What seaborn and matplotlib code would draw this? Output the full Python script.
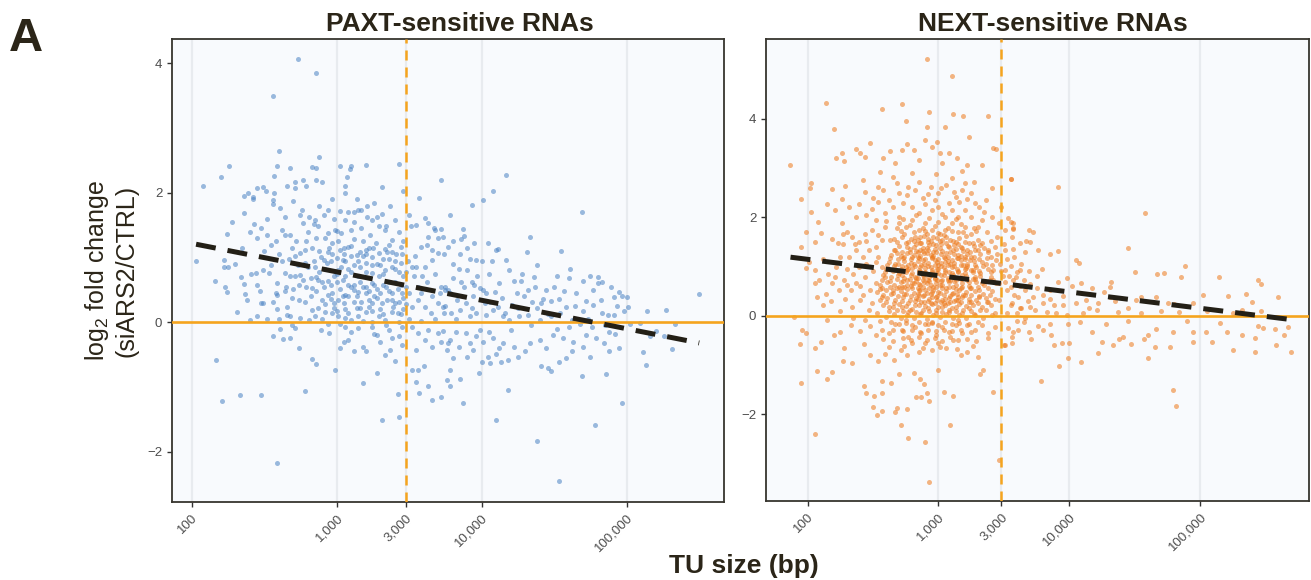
import numpy as np
import pandas as pd
import seaborn as sns
import matplotlib.pyplot as plt
from matplotlib.ticker import NullLocator

# PAXT-sensitive RNAs: (log10 TU size in bp, log2 fold change siARS2/CTRL)
paxt_points = [
    (2.73,4.06),(2.86,3.85),(2.56,3.50),(2.60,2.64),(2.88,2.56),
    (2.26,2.42),(2.20,2.25),(2.08,2.11),(2.59,2.42),(2.57,2.26),(2.68,2.38),(2.83,2.40),(2.86,2.38),
    (3.02,2.42),(3.10,2.41),(3.09,2.37),(3.20,2.43),(3.43,2.44),(3.07,2.24),(3.06,2.11),(3.06,2.00),
    (3.31,2.09),(3.46,2.03),(3.57,1.92),(2.71,2.16),(2.77,2.19),(2.79,2.11),(2.86,2.20),(2.90,2.17),
    (2.71,2.07),(2.66,2.11),(2.45,2.08),(2.49,2.09),(2.51,2.02),(2.57,2.00),(2.61,1.77),(2.36,1.95),
    (2.39,1.99),(2.42,1.93),(2.42,1.90),(2.56,1.89),(2.56,1.83),(2.36,1.69),(2.43,1.52),(2.24,1.37),
    (2.03,0.95),(2.22,0.96),(2.25,0.86),(2.22,0.85),(2.16,0.63),(2.23,0.54),(2.24,0.47),(2.31,0.16),
    (2.40,0.04),(2.36,0.59),(2.37,0.44),(2.38,0.35),(2.41,0.75),(2.44,0.76),(2.49,0.80),(2.45,0.58),
    (2.47,0.49),(2.48,0.30),(2.49,0.29),(2.53,0.76),(2.55,0.88),(2.56,0.32),(2.58,0.45),(2.59,0.42),
    (2.59,0.60),(2.59,0.20),(2.56,-0.22),(2.61,-0.11),(2.63,-0.26),(2.68,-0.25),(2.66,0.11),(2.68,0.09),
    (2.69,-0.05),(2.71,-0.09),(2.74,-0.40),(2.83,-0.57),(2.86,-0.64),(2.78,-1.06),(2.48,-1.13),(2.33,-1.13),
    (2.21,-1.21),(2.17,-0.58),(2.59,-2.17),(2.99,-0.74),(3.05,-0.30),(3.08,-0.28),(3.18,-0.38),(3.20,-0.45),
    (3.18,-0.94),(3.28,-0.78),(3.31,-1.51),(3.43,-1.47),(3.42,-1.11),(3.30,-0.31),(3.33,-0.50),(3.37,-0.43),
    (3.43,-0.22),(2.95,-0.16),(2.89,-0.12),
    (2.62,1.43),(2.64,1.35),(2.68,1.35),(2.75,1.66),(2.76,1.74),(2.81,1.63),(2.77,1.53),(2.84,1.52),
    (2.87,1.48),(2.85,1.58),(2.91,1.66),(2.94,1.74),(2.99,1.43),(3.00,1.41),(2.94,1.38),(3.03,1.38),
    (3.10,1.43),(3.06,1.58),(3.08,1.71),(3.12,1.71),(3.15,1.74),(3.17,1.73),(3.21,1.63),(3.26,1.85),
    (3.21,1.80),(3.37,1.79),(3.31,1.68),(3.34,1.49),(3.29,1.48),(3.24,1.58),(3.17,1.45),(3.23,1.35),
    (3.33,1.43),(3.43,1.40),(3.38,1.27),(3.44,1.17),(3.38,1.08),(3.33,1.13),(3.29,1.07),(3.24,1.01),
    (3.20,1.12),(3.16,1.09),(3.18,1.02),(3.14,1.04),(3.10,1.02),(3.08,1.17),(3.05,1.14),(3.01,1.25),
    (2.97,1.22),(2.94,1.09),(2.91,0.96),(2.93,0.92),(2.89,1.01),(2.85,0.86),(2.83,1.14),(2.79,1.25),
    (2.78,1.12),(2.75,1.07),(2.71,1.02),(2.69,1.14),(2.62,0.94),(2.64,0.76),(2.68,0.71),(2.71,0.71),
    (2.75,0.73),(2.77,0.65),(2.79,0.55),(2.83,0.53),(2.87,0.65),(2.91,0.55),(2.94,0.63),(2.98,0.71),
    (3.01,0.81),(3.03,0.86),(3.06,0.71),(3.10,0.78),(3.15,0.71),(3.20,0.78),(3.24,0.76),(3.29,0.71),
    (3.33,0.81),(3.38,0.86),(3.43,0.78),(3.46,0.71),
    (2.97,0.45),(3.01,0.35),(3.05,0.29),(3.08,0.40),(3.12,0.32),(3.15,0.47),(3.17,0.32),(3.22,0.35),
    (3.24,0.29),(3.26,0.40),(3.31,0.29),(3.35,0.35),(3.38,0.45),(3.39,0.24),(3.43,0.32),(3.45,0.45),
    (2.87,0.22),(2.92,0.16),(2.97,0.14),(3.01,0.09),(3.06,0.06),(3.10,0.04),(3.15,0.09),(3.20,0.16),
    (3.24,0.01),(3.29,0.09),(3.33,0.04),(3.38,0.16),(3.43,0.01),(3.24,-0.07),(3.15,-0.09),(3.06,-0.07),
    (3.36,-0.12),(3.45,-0.07),(2.83,0.19),(2.78,0.32),(2.74,0.35),(2.69,0.37),(2.66,0.24),(2.75,0.06),
    (2.81,0.04),(2.85,0.09),
    (3.52,0.24),(3.56,0.55),(3.59,0.71),(3.61,0.86),(3.66,0.96),(3.70,1.07),(3.68,1.43),(3.63,1.32),
    (3.58,1.17),(3.54,1.02),(3.52,0.86),(3.53,0.71),(3.56,0.35),(3.61,0.24),(3.66,0.40),(3.70,0.29),
    (3.75,0.50),(3.74,0.14),(3.52,-0.07),(3.56,-0.17),(3.61,-0.27),(3.66,-0.38),(3.70,-0.17),(3.77,-0.32),
    (3.55,-0.43),(3.52,-0.74),(3.56,-0.74),(3.60,-0.68),(3.55,-0.92),(3.57,-1.09),(3.63,-0.99),(3.72,-1.15),
    (3.66,-1.20),(3.63,1.53),(3.61,1.61),(3.67,1.45),(3.51,1.48),
    (3.72,2.19),(4.17,2.28),(4.08,2.03),(4.01,1.89),(3.93,1.81),(3.78,1.65),(4.69,1.71),(3.72,1.44),
    (3.87,1.44),(3.88,1.33),(3.86,1.28),(3.73,1.32),(4.33,1.31),(4.04,1.22),(4.11,1.13),(4.10,1.11),
    (4.31,1.08),(4.55,1.10),(4.17,0.96),(4.07,0.94),(4.00,0.94),(3.96,0.96),(3.92,0.97),(3.85,1.06),
    (3.77,1.17),(4.38,0.89),(4.61,0.82),(4.52,0.72),(4.60,0.69),(4.70,0.64),(4.75,0.72),(4.80,0.70),
    (4.80,0.61),(4.83,0.62),(4.89,0.54),(4.95,0.47),(4.91,0.39),(4.97,0.41),(5.00,0.39),(5.01,0.23),
    (4.98,0.18),(4.91,0.11),(4.87,0.11),(4.83,0.15),(4.77,0.26),(4.72,0.33),(4.70,0.18),(4.64,0.25),
    (4.58,0.23),(4.53,0.36),(4.48,0.33),(4.42,0.36),(4.38,0.22),(4.35,0.32),(4.29,0.40),(4.24,0.45),
    (4.21,0.27),(4.14,0.37),(4.09,0.47),(4.03,0.45),(3.99,0.53),(3.94,0.40),(3.89,0.29),(3.83,0.35),
    (3.78,0.45),(3.75,0.55),(3.71,0.45),(3.73,0.24),(3.79,0.14),(3.85,0.19),(3.92,0.09),(3.96,0.14),
    (4.03,0.11),(4.08,0.19),(4.15,0.09),(4.19,0.04),(4.26,0.09),(4.32,0.11),(4.40,0.04),(4.48,0.09),
    (4.54,0.14),(4.62,0.04),(4.68,-0.02),(4.76,-0.07),(4.85,-0.04),(5.02,-0.02),(5.09,-0.01),(5.14,0.18),
    (5.27,0.19),(5.33,-0.03),(5.20,-0.13),(5.26,-0.21),(5.16,-0.21),(5.11,-0.46),(5.13,-0.66),(5.31,-0.41),
    (5.50,0.43),
    (3.73,-0.14),(3.78,-0.27),(3.84,-0.38),(3.80,-0.56),(3.78,-0.74),(3.76,-0.89),(3.78,-0.99),(3.85,-0.88),
    (3.87,-1.25),(3.90,-0.54),(3.98,-0.79),(4.00,-0.62),(4.04,-0.53),(4.06,-0.63),(4.10,-0.49),(4.13,-0.62),
    (4.18,-0.58),(4.25,-0.54),(3.96,-0.22),(4.01,-0.30),(4.08,-0.25),(4.15,-0.32),(4.22,-0.38),(4.33,-0.32),
    (4.40,-0.27),(4.49,-0.20),(4.56,-0.25),(4.63,-0.30),(4.70,-0.38),(4.79,-0.25),(4.84,-0.32),(4.88,-0.45),
    (4.95,-0.40),(4.58,-0.56),(4.53,-0.61),(4.41,-0.67),(4.46,-0.71),(4.48,-0.76),(4.69,-0.83),(4.75,-0.53),
    (4.86,-0.80),(4.18,-1.04),(4.10,-1.51),(4.97,-1.25),(4.78,-1.59),(4.38,-1.83),(4.53,-2.45),
    (3.80,0.68),(3.77,0.50),(3.95,0.58),(4.01,0.50),(4.06,0.32),(4.11,0.24),(4.22,0.63),(4.27,0.63),
    (4.32,0.50),(4.37,0.55),(4.41,0.29),(3.99,-0.12),(3.89,-0.17),(3.94,-0.43),(3.76,-0.43),
    (2.80,0.85),(2.84,0.95),(2.88,0.78),(2.92,0.82),(2.96,0.95),(3.00,0.62),(3.04,0.96),(3.08,0.58),
    (3.12,0.88),(3.16,0.62),(3.20,0.92),(3.24,0.60),(3.28,0.90),(3.32,0.58),(3.36,0.98),(3.40,0.62),
    (3.44,0.92),(3.48,0.55),(2.82,0.40),(2.86,0.48),(2.90,0.35),(2.94,0.42),(2.98,0.30),(3.02,0.52),
    (3.06,0.42),(3.10,0.55),(3.14,0.40),(3.18,0.55),(3.22,0.48),(3.26,0.58),(3.30,0.45),(3.34,0.55),
    (3.38,0.35),(3.42,0.52),(3.46,0.38),(3.50,0.45),(2.90,0.05),(2.94,-0.03),(2.98,0.22),(3.02,-0.02),
    (3.06,0.20),(3.10,-0.15),(3.14,0.22),(3.18,0.02),(3.22,0.24),(3.26,-0.18),(3.30,0.20),(3.34,-0.05),
    (3.38,-0.25),(3.42,0.15),(3.46,0.20),(3.50,0.05),(2.92,1.30),(2.97,1.05),(3.02,1.12),(3.06,0.95),
    (3.12,1.28),(3.18,1.25),(3.22,1.15),(3.27,1.22),(3.32,0.98),(3.36,1.20),(3.41,1.05),(3.46,1.25),
    (3.49,0.95),(2.86,1.30),(2.80,1.40),(2.72,1.25),(2.67,0.98),(2.73,0.88),(2.65,0.55),(2.70,0.52),
    (3.55,0.85),(3.58,0.45),(3.62,0.62),(3.65,0.15),(3.68,0.75),(3.72,0.55),(3.75,0.25),(3.80,0.90),
    (3.82,0.05),(3.86,0.62),(3.90,0.80),(3.93,0.22),(3.97,0.72),(4.02,0.30),(4.05,0.75),(4.12,0.60),
    (4.16,0.15),(4.19,0.80),(4.25,0.22),(4.28,0.75),(4.34,-0.05),(4.36,0.70),(4.44,0.50),(4.46,0.12),
    (4.50,0.55),(4.57,0.48),(4.60,-0.08),(4.65,0.45),(4.73,0.05),(4.77,0.50),(4.82,0.35),(4.88,-0.15),
    (4.93,0.25),(3.58,0.02),(3.63,-0.12),(3.68,0.05),(3.72,-0.30),(3.82,-0.15),(3.92,-0.32),(4.05,-0.15),
    (4.12,-0.40),(4.20,-0.12),(4.30,-0.45),(4.44,-0.40),(4.52,-0.10),(4.62,-0.45),(4.72,-0.20),(4.92,-0.18),
    (3.45,-0.35),(3.40,-0.60),(3.28,-0.20),(3.12,-0.45),(3.02,-0.40),(2.60,1.05),(2.55,1.20),(2.50,1.10),
    (2.45,1.30),(2.40,1.40),(2.35,1.15),(2.30,0.90),(2.28,1.55),(2.52,1.60),(2.48,1.45),(2.34,0.70),
    (2.52,0.05),(2.45,0.10),(2.60,0.05),(2.64,0.48),(2.58,1.25),(3.50,1.65),(3.55,1.50),(3.62,1.20),
    (3.66,1.12),(3.74,1.05),(3.80,1.25),(3.84,0.82),(3.90,1.15),(3.95,1.22),(3.70,1.30),(3.88,0.55),
    (3.93,0.62),(2.98,1.60),(3.02,1.72),(3.12,1.55),(3.28,1.62),(2.88,1.80),(2.97,1.90),(3.14,1.90),
    (3.40,1.58),(2.64,1.62),(2.70,1.88),(2.52,1.35),
    (2.96,0.58),(3.00,0.75),(3.04,0.66),(3.08,0.82),(3.12,0.50),(3.16,0.85),(3.20,0.55),(3.24,0.88),
    (3.28,0.52),(3.32,0.75),(3.36,0.62),(3.40,0.82),(3.44,0.58),(3.48,0.78),(2.92,0.28),(2.96,0.36),
    (3.00,0.18),(3.04,0.40),(3.08,0.15),(3.12,0.58),(3.16,0.22),(3.20,0.45),(3.24,0.18),(3.28,0.38),
    (3.32,0.12),(3.36,0.48),(3.40,0.30),(3.44,0.12),(3.48,0.28),(3.00,1.00),(3.05,1.05),(3.10,1.18),
    (3.15,0.95),(3.20,1.05),(3.25,1.15),(3.30,0.88),(3.35,1.08),(3.40,0.95),(3.45,1.05),(2.86,0.70),
    (2.90,0.62),(2.82,0.68),(2.78,0.92),(2.74,0.58),(2.88,1.10),(2.95,1.15),
]

# NEXT-sensitive RNAs: (log10 TU size in bp, log2 fold change siARS2/CTRL)
next_points = [
    (2.91,5.22),(3.10,4.87),(2.14,4.33),(2.20,3.79),(2.57,4.21),(2.72,4.30),(2.75,3.96),(2.93,4.15),
    (2.91,3.83),(3.11,4.11),(3.19,4.07),(3.38,4.07),(3.05,3.84),(3.23,3.64),(1.87,3.07),(2.03,2.69),
    (2.02,2.59),(1.95,2.37),(2.03,2.11),(1.99,1.71),(2.08,1.90),(1.95,1.40),(2.01,1.10),(1.99,0.98),
    (3.42,3.40),(3.44,3.39),(3.55,2.79),(3.48,2.22),
    (2.37,3.39),(2.40,3.31),(2.48,3.52),(2.44,3.23),(2.28,3.14),(2.22,3.20),(2.26,3.31),(2.58,3.21),
    (2.63,3.35),(2.67,3.10),(2.72,3.37),(2.76,3.49),(2.81,3.37),(2.85,3.16),(2.90,3.57),(2.95,3.43),
    (2.99,3.54),(3.01,3.30),(3.03,3.10),(3.08,3.30),(3.14,3.20),(3.22,3.06),(3.33,3.06),(3.27,2.71),
    (3.20,2.70),(3.36,2.35),(3.41,2.60),(2.19,2.57),(2.29,2.64),(2.42,2.76),(2.44,2.52),(2.54,2.62),
    (2.65,2.83),(2.70,2.49),(2.77,2.62),(2.85,2.72),(2.94,2.62),(3.00,2.49),(3.06,2.66),(3.13,2.42),
    (3.18,2.55),(3.25,2.49),(3.31,2.22),(2.39,2.28),(2.32,2.22),(2.26,2.38),(2.21,2.15),(2.15,2.28),
    (2.37,2.01),(2.49,2.18),(2.54,2.32),(2.59,2.08),(2.65,2.22),(2.70,2.01),(2.80,2.22),(2.85,2.08),
    (2.90,2.28),(2.95,2.15),(3.00,2.22),(3.05,2.01),(3.10,2.15),(3.15,2.01),(3.20,2.15),(3.25,2.01),
    (3.33,1.94),(3.41,2.01),(3.46,1.88),(3.55,1.91),(3.57,1.78),
    (2.06,1.50),(2.10,1.69),(2.19,1.57),(2.26,1.88),(2.27,1.67),(2.23,1.47),(2.30,1.71),(2.34,1.61),
    (2.39,1.50),(2.44,1.67),(2.49,1.74),(2.54,1.64),(2.59,1.81),(2.06,0.93),(2.09,0.72),(2.06,0.66),
    (2.07,0.39),(2.12,0.22),(2.14,0.45),(2.19,0.66),(2.21,0.79),(2.22,1.00),(2.28,0.72),(2.24,0.52),
    (2.29,0.35),(2.34,0.18),(2.33,0.52),(2.37,0.66),(2.39,1.00),(2.42,1.20),(2.44,0.79),(2.48,0.52),
    (2.49,0.25),(2.52,0.66),(2.32,1.20),(2.37,1.33),(2.47,1.33),(2.54,1.20),(2.57,1.00),(2.59,0.79),
    (2.57,0.39),(2.62,0.18),(2.65,0.52),(2.67,1.33),(2.63,1.54),
    (2.70,1.88),(2.75,1.81),(2.80,1.94),(2.85,1.74),(2.90,1.88),(2.95,1.74),(3.00,1.91),(3.05,1.74),
    (3.10,1.88),(3.15,1.71),(3.20,1.81),(3.25,1.67),
    (2.72,1.61),(2.77,1.50),(2.82,1.61),(2.87,1.47),(2.92,1.57),(2.98,1.44),(3.03,1.54),(3.08,1.40),
    (3.13,1.50),(3.18,1.37),(3.23,1.47),(3.28,1.33),(3.33,1.47),(3.38,1.33),(3.43,1.40),
    (2.68,1.27),(2.73,1.17),(2.78,1.30),(2.84,1.20),(2.89,1.06),(2.94,1.23),(2.99,1.10),(3.04,1.20),
    (3.09,1.06),(3.14,1.17),(3.19,1.03),(3.24,1.13),(3.29,1.00),(3.36,1.06),(3.42,0.93),(3.47,1.06),
    (2.67,0.93),(2.72,0.83),(2.77,0.96),(2.82,0.79),(2.87,0.89),(2.92,0.72),(2.98,0.86),(3.03,0.72),
    (3.08,0.89),(3.13,0.72),(3.18,0.83),(3.23,0.69),(3.28,0.79),(3.33,0.66),(3.39,0.72),(3.46,0.66),
    (2.70,0.59),(2.75,0.45),(2.80,0.56),(2.85,0.42),(2.90,0.52),(2.95,0.39),(3.00,0.49),(3.05,0.35),
    (3.10,0.45),(3.15,0.32),(3.20,0.42),(3.25,0.28),(3.31,0.39),(3.37,0.28),(3.43,0.35),
    (2.72,0.18),(2.77,0.08),(2.82,0.22),(2.87,0.05),(2.92,0.15),(2.98,0.05),(3.03,0.18),(3.08,0.08),
    (3.13,0.18),(3.18,0.05),(3.23,0.15),(3.28,0.01),(3.36,0.12),(3.43,0.05),
    (2.81,1.40),(2.86,1.33),(2.91,1.37),(2.96,1.30),(3.01,1.37),(3.06,1.27),(3.11,1.33),(2.89,1.27),
    (2.94,1.00),(2.99,0.96),(3.04,1.00),(2.81,1.06),(2.86,1.00),(2.76,0.72),(2.81,0.66),(2.86,0.62),
    (2.91,0.66),(2.96,0.59),(3.01,0.62),(3.06,0.56),(3.11,0.59),(3.17,0.56),(2.84,0.35),(2.89,0.28),
    (2.94,0.25),(2.99,0.32),(3.04,0.25),(3.09,0.28),(2.96,1.61),(3.01,1.67),(2.91,1.67),(2.86,1.61),
    (3.06,1.61),(2.80,1.20),(3.15,1.23),(3.20,1.20),(2.75,1.00),(3.20,0.96),(3.25,0.93),(2.72,0.59),
    (3.25,0.56),(3.31,0.52),(3.15,0.39),(2.84,0.76),(2.89,0.79),(2.94,0.83),(2.99,0.72),(3.04,0.83),
    (3.09,0.72),(3.14,0.96),(2.84,1.30),(2.95,1.17),(3.00,1.03),(2.90,0.89),(3.05,1.10),(2.85,0.52),
    (2.95,0.49),
    (2.73,1.97),(2.83,2.05),(2.93,1.99),(3.03,2.06),(3.13,1.96),(2.68,1.78),(2.78,1.84),(2.88,1.79),
    (2.97,1.83),(3.07,1.79),(3.17,1.86),(3.27,1.78),(2.66,1.56),(2.74,1.66),(2.79,1.57),(2.84,1.55),
    (2.89,1.62),(2.94,1.52),(2.99,1.58),(3.04,1.64),(3.09,1.53),(3.16,1.59),(3.21,1.62),(3.30,1.55),
    (3.40,1.52),(2.70,1.42),(2.76,1.39),(2.83,1.45),(2.88,1.38),(2.93,1.44),(2.97,1.36),(3.02,1.46),
    (3.07,1.41),(3.12,1.44),(3.17,1.39),(3.22,1.34),(3.27,1.42),(3.35,1.38),(2.64,1.24),(2.71,1.22),
    (2.76,1.27),(2.81,1.24),(2.86,1.22),(2.91,1.28),(2.96,1.21),(3.02,1.26),(3.07,1.20),(3.12,1.26),
    (3.17,1.22),(3.22,1.26),(3.27,1.19),(3.32,1.25),(3.40,1.20),(2.62,1.10),(2.69,1.06),(2.74,1.12),
    (2.79,1.08),(2.84,1.12),(2.88,1.14),(2.92,1.08),(2.97,1.13),(3.02,1.07),(3.07,1.12),(3.12,1.08),
    (3.17,1.13),(3.22,1.06),(3.27,1.12),(3.33,1.09),(3.44,1.14),(2.60,0.96),(2.66,1.01),(2.71,0.96),
    (2.76,0.92),(2.80,0.98),(2.85,0.94),(2.90,0.98),(2.95,0.92),(3.00,0.96),(3.05,0.93),(3.10,0.99),
    (3.15,0.90),(3.21,0.97),(3.26,0.94),(3.31,0.91),(3.38,0.95),(3.48,0.90),(2.58,0.83),(2.64,0.78),
    (2.69,0.82),(2.74,0.76),(2.79,0.83),(2.83,0.77),(2.88,0.83),(2.93,0.79),(2.97,0.76),(3.02,0.82),
    (3.07,0.77),(3.11,0.83),(3.16,0.77),(3.21,0.81),(3.26,0.74),(3.32,0.81),(3.40,0.78),(3.49,0.80),
    (2.55,0.62),(2.61,0.68),(2.66,0.63),(2.71,0.69),(2.76,0.62),(2.80,0.67),(2.85,0.64),(2.89,0.69),
    (2.94,0.62),(2.98,0.67),(3.03,0.63),(3.08,0.68),(3.13,0.62),(3.18,0.67),(3.23,0.61),(3.29,0.68),
    (3.35,0.62),(3.44,0.66),(2.53,0.48),(2.60,0.53),(2.65,0.47),(2.71,0.51),(2.76,0.54),(2.81,0.47),
    (2.86,0.52),(2.91,0.47),(2.96,0.53),(3.01,0.46),(3.06,0.51),(3.11,0.47),(3.16,0.52),(3.21,0.48),
    (3.28,0.50),(3.34,0.45),(3.41,0.50),(2.55,0.33),(2.61,0.37),(2.67,0.32),(2.73,0.38),(2.78,0.33),
    (2.83,0.36),(2.88,0.41),(2.93,0.34),(2.98,0.39),(3.03,0.32),(3.08,0.37),(3.13,0.33),(3.18,0.38),
    (3.23,0.34),(3.29,0.31),(3.36,0.36),(3.46,0.32),(2.58,0.21),(2.65,0.18),(2.70,0.24),(2.75,0.19),
    (2.80,0.14),(2.85,0.22),(2.90,0.19),(2.95,0.24),(3.00,0.17),(3.05,0.22),(3.10,0.16),(3.16,0.23),
    (3.21,0.19),(3.26,0.22),(3.33,0.18),(3.40,0.21),(2.60,-0.03),(2.66,0.03),(2.71,-0.05),(2.76,0.02),
    (2.81,-0.04),(2.86,0.03),(2.91,-0.06),(2.96,0.02),(3.01,-0.03),(3.06,0.03),(3.11,-0.05),(3.16,0.02),
    (3.21,-0.04),(3.27,0.03),(3.34,-0.05),(3.41,0.02),(2.58,-0.47),(2.65,-0.52),(2.73,-0.45),(2.79,-0.50),
    (2.85,-0.44),(2.91,-0.49),(2.97,-0.46),(3.03,-0.52),(3.09,-0.44),(3.15,-0.50),(3.22,-0.47),(3.29,-0.52),
    (3.38,-0.46),(2.62,-0.64),(2.74,-0.62),(2.88,-0.66),(3.01,-0.63),(3.14,-0.67),(3.26,-0.61),
    (2.71,1.72),(2.81,1.70),(2.90,1.73),(3.00,1.69),(3.10,1.73),(3.19,1.70),(3.29,1.72),
    (2.68,1.49),(2.75,1.47),(2.81,1.51),(2.86,1.47),(2.92,1.49),(2.96,1.45),(3.01,1.51),(3.06,1.48),
    (3.11,1.52),(3.15,1.46),(3.20,1.50),(3.26,1.48),(3.32,1.44),(2.66,1.33),(2.72,1.30),(2.78,1.35),
    (2.83,1.32),(2.88,1.31),(2.92,1.34),(2.98,1.29),(3.03,1.32),(3.09,1.30),(3.13,1.35),(3.19,1.31),
    (3.24,1.29),(3.30,1.34),(3.38,1.29),(2.63,1.17),(2.69,1.15),(2.74,1.19),(2.79,1.16),(2.85,1.18),
    (2.90,1.15),(2.95,1.19),(3.00,1.16),(3.05,1.18),(3.10,1.14),(3.15,1.17),(3.20,1.15),(3.25,1.19),
    (3.31,1.16),(3.37,1.17),(2.61,1.03),(2.67,1.05),(2.72,1.02),(2.77,1.04),(2.82,1.01),(2.87,1.04),
    (2.92,1.02),(2.97,1.04),(3.02,1.01),(3.07,1.03),(3.12,1.01),(3.17,1.04),(3.22,1.02),(3.28,1.04),
    (3.34,1.01),(3.41,1.03),(2.59,0.88),(2.65,0.90),(2.70,0.87),(2.75,0.89),(2.80,0.86),(2.85,0.88),
    (2.90,0.86),(2.95,0.89),(3.00,0.87),(3.05,0.88),(3.10,0.86),(3.15,0.89),(3.20,0.87),(3.26,0.88),
    (3.32,0.86),(3.40,0.88),(2.57,0.73),(2.63,0.71),(2.68,0.74),(2.73,0.71),(2.78,0.74),(2.83,0.70),
    (2.88,0.73),(2.93,0.71),(2.97,0.74),(3.02,0.70),(3.07,0.73),(3.12,0.71),(3.17,0.74),(3.22,0.72),
    (3.28,0.74),(3.35,0.71),(3.42,0.73),(2.57,0.57),(2.63,0.59),(2.68,0.56),(2.74,0.58),(2.79,0.60),
    (2.84,0.56),(2.88,0.58),(2.93,0.56),(2.98,0.59),(3.03,0.56),(3.08,0.58),(3.13,0.55),(3.18,0.58),
    (3.24,0.56),(3.30,0.59),(3.38,0.56),(2.58,0.42),(2.64,0.44),(2.69,0.41),(2.74,0.44),(2.79,0.41),
    (2.84,0.44),(2.89,0.42),(2.94,0.44),(2.99,0.41),(3.04,0.43),(3.09,0.41),(3.14,0.44),(3.19,0.42),
    (3.25,0.43),(3.31,0.41),(3.39,0.43),(2.60,0.28),(2.66,0.26),(2.72,0.29),(2.77,0.26),(2.82,0.29),
    (2.87,0.27),(2.92,0.29),(2.97,0.26),(3.02,0.28),(3.07,0.26),(3.12,0.29),(3.17,0.27),(3.23,0.28),
    (3.30,0.26),(3.38,0.28),(2.62,0.10),(2.68,0.12),(2.73,0.09),(2.78,0.11),(2.83,0.08),(2.88,0.12),
    (2.93,0.09),(2.98,0.11),(3.03,0.08),(3.08,0.12),(3.13,0.09),(3.19,0.11),(3.25,0.09),(3.32,0.11),
    (2.64,-0.13),(2.70,-0.17),(2.75,-0.14),(2.80,-0.18),(2.85,-0.13),(2.90,-0.17),(2.95,-0.14),(3.00,-0.18),
    (3.05,-0.13),(3.10,-0.17),(3.16,-0.14),(3.22,-0.18),(3.30,-0.13),(2.65,-0.28),(2.73,-0.32),(2.80,-0.29),
    (2.86,-0.33),(2.92,-0.28),(2.98,-0.31),(3.04,-0.28),(3.10,-0.32),(3.17,-0.29),(3.25,-0.33),
    (2.50,2.40),(2.58,2.55),(2.62,2.35),(2.73,2.30),(2.76,2.45),(2.82,2.55),(2.88,2.40),(2.92,2.48),
    (2.97,2.35),(3.02,2.60),(3.08,2.30),(3.12,2.52),(3.16,2.32),(3.22,2.38),(3.28,2.30),(3.35,2.10),
    (2.68,2.70),(2.80,2.90),(2.98,2.88),(3.10,2.80),(3.18,2.95),(2.55,2.92),(2.45,2.05),(2.52,1.95),
    (2.60,1.92),(3.30,1.80),(3.37,1.70),(3.45,1.60),(3.50,1.45),(3.45,1.25),
    (2.25,1.20),(2.30,0.95),(2.35,0.85),(2.40,0.60),(2.45,1.05),(2.50,0.90),(2.55,0.55),(2.47,0.12),
    (2.40,0.32),(2.30,0.62),(2.18,0.30),(2.27,1.45),(2.36,1.45),(2.52,1.40),(2.57,1.55),(2.45,1.52),
    (2.52,1.10),(2.42,0.42),(2.53,0.05),(2.35,-0.05),(2.40,-0.30),(2.48,-0.20),(2.55,-0.10),(2.25,0.10),
    (2.16,0.85),(2.12,1.15),
    (1.90,-0.02),(1.96,-0.28),(1.99,-0.36),(1.94,-0.58),(1.95,-1.36),(2.06,-2.41),(2.07,-1.12),(2.15,-1.29),
    (2.19,-1.14),(2.27,-0.92),(2.34,-0.97),(2.28,-0.65),(2.20,-0.39),(2.25,-0.33),(2.33,-0.19),(2.15,-0.09),
    (2.10,-0.53),(2.06,-0.65),(2.43,-0.58),(2.48,-0.80),(2.43,-1.42),(2.45,-1.58),(2.51,-1.63),(2.57,-1.58),
    (2.50,-1.86),(2.53,-2.01),(2.57,-1.93),(2.67,-1.96),(2.68,-1.87),(2.71,-2.22),(2.77,-2.48),(2.76,-1.90),
    (2.57,-1.33),(2.64,-1.36),(2.70,-1.19),(2.81,-1.16),(2.86,-1.29),(2.89,-1.38),(2.83,-1.65),(2.87,-1.65),
    (2.91,-1.58),(2.93,-1.73),(2.90,-2.56),(2.93,-3.37),(3.04,-1.55),(3.11,-1.63),(3.09,-2.23),(3.00,-1.10),
    (2.54,-0.93),(2.59,-0.77),(2.66,-0.90),(2.71,-0.70),(2.76,-0.80),(2.80,-0.56),(2.85,-0.73),(2.90,-0.56),
    (2.95,-0.70),(3.00,-0.56),(3.06,-0.66),(3.11,-0.49),(3.17,-0.80),(3.22,-0.73),(3.30,-0.83),(3.34,-1.10),
    (3.32,-1.19),(3.42,-1.54),(3.46,-2.93),(2.52,-0.39),(2.57,-0.29),(2.62,-0.36),(2.67,-0.16),(2.72,-0.29),
    (2.77,-0.43),(2.82,-0.22),(2.87,-0.36),(2.92,-0.16),(2.98,-0.39),(3.03,-0.22),(3.08,-0.33),(3.13,-0.19),
    (3.18,-0.36),(3.23,-0.16),(3.28,-0.29),(3.33,-0.19),(3.38,-0.36),(3.43,-0.22),(3.50,-0.60),(3.56,-0.43),
    (3.61,-0.29),(3.65,-0.12),(2.44,-0.09),(2.75,-0.09),(2.95,-0.12),(3.15,-0.09),
    (3.51,1.74),(3.56,1.61),(3.51,1.33),(3.58,1.20),(3.63,1.06),(3.51,0.93),(3.57,0.72),(3.52,0.52),
    (3.61,0.39),(3.56,0.25),(3.63,0.15),
    (3.52,1.15),(3.55,1.02),(3.60,0.88),(3.65,0.72),(3.70,0.65),(3.75,0.80),(3.80,0.42),(3.68,0.30),
    (3.58,0.42),(3.54,0.80),(3.62,0.60),(3.74,0.12),(3.85,0.35),(3.90,0.05),(3.66,-0.05),(3.76,-0.20),
    (3.53,-0.25),(3.60,-0.10),(3.86,-0.40),(3.95,0.40),(4.02,0.60),(4.15,0.15),(4.35,0.30),(4.45,-0.10),
    (4.55,0.05),(4.70,0.10),(4.90,-0.10),(5.05,0.10),(5.25,0.05),(5.35,0.45),
    (3.55,2.78),(3.91,2.62),(4.58,2.09),(4.45,1.37),(4.05,1.13),(4.07,1.08),(4.88,1.02),(4.50,0.89),
    (4.67,0.85),(4.72,0.86),(4.85,0.78),(5.14,0.79),(5.44,0.72),(5.46,0.64),(5.59,0.38),(3.53,1.98),
    (3.57,1.89),(3.57,1.77),(3.69,1.74),(3.72,1.71),(3.67,1.52),(3.70,1.50),(3.62,1.47),(3.57,1.35),
    (3.66,1.30),(3.76,1.33),(3.85,1.25),(3.91,1.32),(3.79,0.96),(3.69,0.91),(3.62,0.93),(3.59,0.79),
    (3.51,0.69),(3.55,0.59),(3.66,0.52),(3.75,0.56),(3.85,0.52),(3.91,0.69),(3.98,0.76),(4.09,0.67),
    (4.17,0.56),(4.32,0.69),(4.31,0.59),(4.31,0.39),(4.26,0.49),(4.22,0.25),(4.13,0.32),(4.05,0.25),
    (3.95,0.22),(3.88,0.22),(3.80,0.25),(3.72,0.39),(3.62,0.15),(3.55,0.22),(3.52,0.06),(3.60,0.05),
    (3.70,0.18),(3.83,0.08),(3.98,0.01),(4.10,0.05),(4.21,0.12),(4.37,0.08),(4.45,0.15),(4.51,0.32),
    (4.55,0.39),(4.66,0.39),(4.75,0.25),(4.80,0.24),(4.84,0.08),(4.94,0.26),(5.02,0.42),(5.21,0.40),
    (5.32,0.12),(5.39,0.27),(5.46,0.09),(5.67,-0.22),(5.64,-0.39),(5.57,-0.26),(5.48,-0.24),(5.44,-0.21),
    (5.42,-0.46),(5.32,-0.40),(5.20,-0.33),(5.15,-0.14),(5.09,-0.53),(5.04,-0.33),(4.94,-0.33),(4.79,-0.34),
    (4.66,-0.26),(4.60,-0.39),(4.57,-0.47),(4.65,-0.63),(4.77,-0.64),(4.94,-0.53),(5.25,-0.70),(5.42,-0.73),
    (5.58,-0.60),(5.69,-0.73),(4.60,-0.85),(4.47,-0.58),(4.41,-0.43),(4.38,-0.48),(4.33,-0.60),(4.25,-0.54),
    (4.22,-0.75),(4.09,-0.95),(4.00,-0.56),(3.99,-0.85),(3.92,-1.03),(3.94,-0.56),(3.88,-0.60),(3.78,-1.32),
    (3.71,-0.48),(3.56,-0.56),(3.51,-0.60),(3.57,-0.33),(3.69,-0.33),(3.80,-0.29),(3.85,-0.16),(3.99,-0.16),
    (4.08,-0.12),(4.17,-0.33),(4.28,-0.16),(4.79,-1.51),(4.81,-1.84),
]

panel_titles = ["PAXT-sensitive RNAs", "NEXT-sensitive RNAs"]
title_x = [0.521, 0.528]
point_colors = ["#4A82C3", "#EE7A1C"]
point_alpha = [0.55, 0.55]
x_ticks = [100, 1000, 3000, 10000, 100000]
x_tick_labels = ["100", "1,000", "3,000", "10,000", "100,000"]
y_ticks = [-2, 0, 2, 4]
size_cutoff = 3000

ink = "#2B2518"
orange = "#F5A41E"

sns.set_theme(style="ticks")
plt.rcParams["font.family"] = ["Liberation Sans", "DejaVu Sans"]
plt.rcParams["axes.unicode_minus"] = True

fig = plt.figure(figsize=(13.11, 5.8), dpi=100)
ax1 = fig.add_axes([172 / 1311, 78 / 580, 552 / 1311, 463 / 580])
ax2 = fig.add_axes([766 / 1311, 79 / 580, 543 / 1311, 462 / 580])
axes = [ax1, ax2]
limits = [((10 ** 1.864, 10 ** 5.671), (-2.777, 4.376)),
          ((10 ** 1.683, 10 ** 5.829), (-3.766, 5.626))]

for ax, pts, title, tx, col, a, (xl, yl) in zip(axes, [paxt_points, next_points],
                                                panel_titles, title_x, point_colors,
                                                point_alpha, limits):
    df = pd.DataFrame(pts, columns=["log_tu", "lfc"])
    df["tu"] = 10 ** df["log_tu"]

    ax.set_facecolor("#F8FAFD")
    ax.set_xscale("log")
    sns.scatterplot(data=df, x="tu", y="lfc", color=col, s=13, alpha=a,
                    linewidth=0, ax=ax, zorder=2)
    ax.axhline(0, color=orange, lw=1.9, zorder=3)
    ax.axvline(size_cutoff, color=orange, lw=1.8, ls=(0, (4, 2.8)), zorder=3)
    sns.regplot(data=df, x="tu", y="lfc", logx=True, scatter=False, ci=None,
                truncate=True, ax=ax,
                line_kws=dict(color="#231F16", lw=3.6, ls=(0, (4, 2.4)), zorder=4))

    ax.set_xlim(*xl)
    ax.set_ylim(*yl)
    ax.set_xticks(x_ticks)
    ax.set_xticklabels(x_tick_labels, rotation=45, ha="right", va="top",
                       rotation_mode="anchor")
    ax.xaxis.set_minor_locator(NullLocator())
    ax.set_yticks(y_ticks)
    ax.set_axisbelow(True)
    ax.grid(axis="x", color="#E8EBEF", lw=1.6)
    ax.grid(axis="y", visible=False)
    for s in ax.spines.values():
        s.set_color("#37352E")
        s.set_linewidth(1.3)
    ax.tick_params(axis="both", length=3.5, width=1, color="#333333",
                   labelcolor="#4D4D4D", labelsize=9.5)
    ax.set_title(title, fontsize=19, fontweight="bold", color=ink, pad=6, x=tx)
    ax.set_xlabel("")
    ax.set_ylabel("")

ax1.set_ylabel("log$_\\mathregular{2}$ fold change\n(siARS2/CTRL)", fontsize=18,
               color=ink, labelpad=6)
fig.text(0.5675, 0.024, "TU size (bp)", ha="center", va="center",
         fontsize=19, fontweight="bold", color=ink)
fig.text(0.007, 0.97, "A", ha="left", va="top", fontsize=34,
         fontweight="bold", color=ink)

fig.savefig("out.png", dpi=100)
